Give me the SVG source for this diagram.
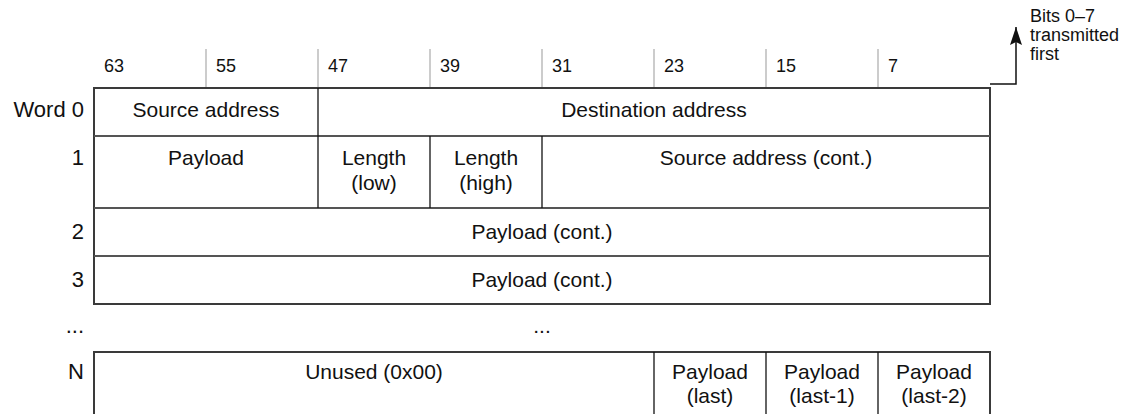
<svg xmlns="http://www.w3.org/2000/svg" width="1130" height="414" viewBox="0 0 1130 414">
<style>
text{font-family:"Liberation Sans",Arial,Helvetica,sans-serif;fill:#111}
.t{font-size:21px;text-anchor:middle}
.l{font-size:22px;text-anchor:end}
.n{font-size:18px}
.s{font-size:18px}
.box{fill:#fff;stroke:#3a3a3a;stroke-width:2}
.row{stroke:#555;stroke-width:2}
.v{stroke:#111;stroke-width:1.3}
.tick{stroke:#aaa;stroke-width:1.2}
</style>
<defs>
<marker id="ah" markerWidth="18" markerHeight="12" refX="18" refY="6" orient="auto" markerUnits="userSpaceOnUse" viewBox="0 0 18 12">
<path d="M0,0 L18,6 L0,12 L3,6 Z" fill="#111"/>
</marker>
</defs>
<g id="header">
<line class="tick" x1="206" y1="49" x2="206" y2="88"/>
<line class="tick" x1="318" y1="49" x2="318" y2="88"/>
<line class="tick" x1="430" y1="49" x2="430" y2="88"/>
<line class="tick" x1="542" y1="49" x2="542" y2="88"/>
<line class="tick" x1="654" y1="49" x2="654" y2="88"/>
<line class="tick" x1="766" y1="49" x2="766" y2="88"/>
<line class="tick" x1="878" y1="49" x2="878" y2="88"/>
<text class="n" x="104" y="72">63</text>
<text class="n" x="216" y="72">55</text>
<text class="n" x="328" y="72">47</text>
<text class="n" x="440" y="72">39</text>
<text class="n" x="552" y="72">31</text>
<text class="n" x="664" y="72">23</text>
<text class="n" x="776" y="72">15</text>
<text class="n" x="888" y="72">7</text>
</g>
<g id="labels">
<text class="l" x="84" y="117">Word 0</text>
<text class="l" x="84" y="165">1</text>
<text class="l" x="84" y="239">2</text>
<text class="l" x="84" y="287">3</text>
<text class="l" x="84" y="333">...</text>
<text class="l" x="84" y="379">N</text>
</g>
<g id="word0">
<rect class="box" x="94" y="88" width="896" height="216"/>
<line class="row" x1="94" y1="136" x2="990" y2="136"/>
<line class="row" x1="94" y1="208" x2="990" y2="208"/>
<line class="row" x1="94" y1="256" x2="990" y2="256"/>
<line class="v" x1="318" y1="88" x2="318" y2="136"/>
<text class="t" x="206" y="117">Source address</text>
<text class="t" x="654" y="117">Destination address</text>
</g>
<g id="word1">
<line class="v" x1="318" y1="136" x2="318" y2="208"/>
<line class="v" x1="430" y1="136" x2="430" y2="208"/>
<line class="v" x1="542" y1="136" x2="542" y2="208"/>
<text class="t" x="206" y="165">Payload</text>
<text class="t" x="374" y="165">Length</text>
<text class="t" x="374" y="190">(low)</text>
<text class="t" x="486" y="165">Length</text>
<text class="t" x="486" y="190">(high)</text>
<text class="t" x="766" y="165">Source address (cont.)</text>
</g>
<g id="word2">
<text class="t" x="542" y="239">Payload (cont.)</text>
</g>
<g id="word3">
<text class="t" x="542" y="287">Payload (cont.)</text>
</g>
<g id="ellipsis">
<text class="t" x="542" y="333">...</text>
</g>
<g id="wordN">
<rect class="box" x="94" y="352" width="896" height="80"/>
<line class="v" x1="654" y1="352" x2="654" y2="414"/>
<line class="v" x1="766" y1="352" x2="766" y2="414"/>
<line class="v" x1="878" y1="352" x2="878" y2="414"/>
<text class="t" x="374" y="379">Unused (0x00)</text>
<text class="t" x="710" y="379">Payload</text>
<text class="t" x="710" y="403">(last)</text>
<text class="t" x="822" y="379">Payload</text>
<text class="t" x="822" y="403">(last-1)</text>
<text class="t" x="934" y="379">Payload</text>
<text class="t" x="934" y="403">(last-2)</text>
</g>
<g id="connectors">
<path d="M990,84 H1016 V27" fill="none" stroke="#111" stroke-width="1.5" marker-end="url(#ah)"/>
</g>
<g id="note">
<text class="s" x="1030" y="22">Bits 0–7</text>
<text class="s" x="1030" y="41">transmitted</text>
<text class="s" x="1030" y="60">first</text>
</g>
</svg>
